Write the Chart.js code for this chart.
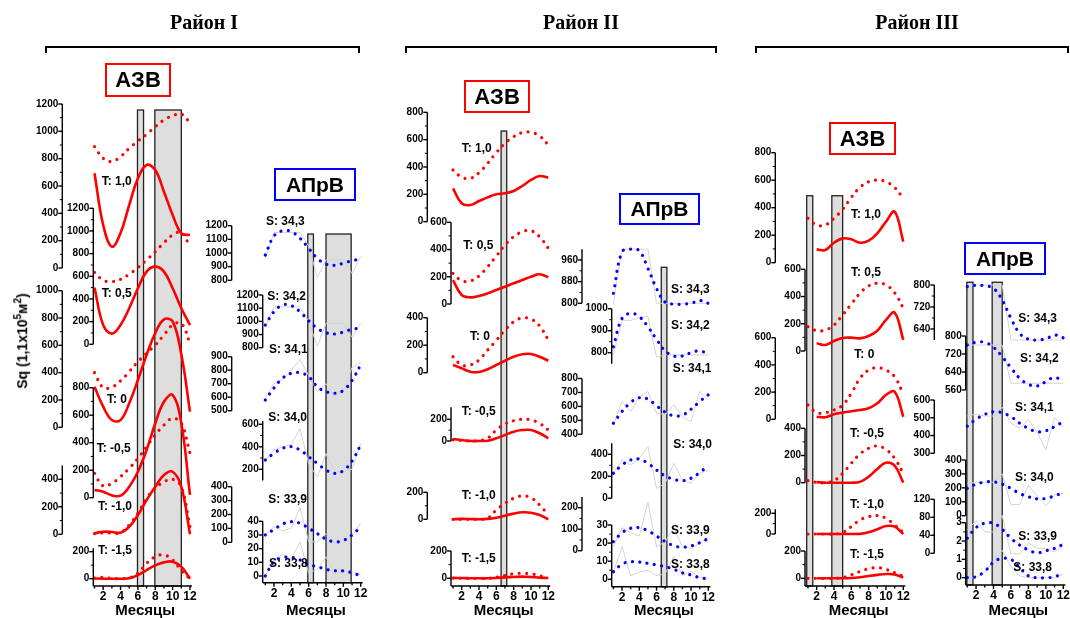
<!DOCTYPE html>
<html lang="ru">
<head>
<meta charset="utf-8">
<script src="https://cdn.jsdelivr.net/npm/chart.js@4.4.1/dist/chart.umd.min.js"></script>
<style>
  body { margin:0; background:#fff; }
  #wrap { position:relative; width:1070px; height:618px; overflow:hidden; font-family:"Liberation Sans", Arial, sans-serif; }
  #c { position:absolute; left:0; top:0; }
  .ttl { position:absolute; top:11px; font:bold 20px "Liberation Serif","Times New Roman",serif; transform:translateX(-50%); white-space:nowrap; }
  .brk { position:absolute; top:46px; height:7px; border:2px solid #000; border-bottom:none; box-sizing:border-box; }
  .box { position:absolute; box-sizing:border-box; border:2px solid; font-weight:bold; display:flex; align-items:center; justify-content:center; }
  .red { border-color:#f00; font-size:22px; }
  .blue { border-color:#00f; font-size:21px; }
  #ylab { position:absolute; left:21px; top:341px; transform:translate(-50%,-50%) rotate(-90deg); font-weight:bold; font-size:14px; white-space:nowrap; }
  #ylab sup { font-size:10px; }
</style>
</head>
<body>
<div id="wrap">
  <canvas id="c" width="1070" height="618"></canvas>
  <div class="ttl" style="left:204px">Район I</div>
  <div class="ttl" style="left:581px">Район II</div>
  <div class="ttl" style="left:917px">Район III</div>
  <div class="brk" style="left:45px;width:315px"></div>
  <div class="brk" style="left:405px;width:312px"></div>
  <div class="brk" style="left:755px;width:314px"></div>
  <div class="box red" style="left:105px;top:63px;width:66px;height:34px">АЗВ</div>
  <div class="box red" style="left:464px;top:80px;width:66px;height:33px">АЗВ</div>
  <div class="box red" style="left:829px;top:122px;width:67px;height:33px">АЗВ</div>
  <div class="box blue" style="left:274px;top:168px;width:82px;height:33px">АПрВ</div>
  <div class="box blue" style="left:619px;top:193px;width:81px;height:32px">АПрВ</div>
  <div class="box blue" style="left:964px;top:242px;width:82px;height:33px">АПрВ</div>
  <div id="ylab">Sq (1,1x10<sup>5</sup>м<sup>2</sup>)</div>
</div>
<script>
// месяцы
const months = [1, 2, 3, 4, 5, 6, 7, 8, 9, 10, 11, 12];
const tLabels = ['T: 1,0', 'T: 0,5', 'T: 0', 'T: -0,5', 'T: -1,0', 'T: -1,5'];
const sLabels = ['S: 34,3', 'S: 34,2', 'S: 34,1', 'S: 34,0', 'S: 33,9', 'S: 33,8'];

// Район I, АЗВ (сплошные и точечные)
const r1AzvLine = [
  [693, 315, 156, 256, 461, 656, 754, 717, 558, 388, 254, 241],
  [500, 170, 94, 170, 318, 494, 641, 685, 641, 494, 318, 170],
  [297, 151, 53, 53, 176, 346, 530, 690, 790, 775, 534, 114],
  [56, 44, 17, 15, 80, 189, 347, 541, 698, 747, 541, 20],
  [7, 19, 17, 12, 55, 140, 249, 346, 431, 455, 346, 0],
  [2, 0, 0, 0, 3, 27, 64, 99, 121, 126, 89, 0]
];
const r1AzvDots = [
  [888, 803, 778, 815, 876, 929, 978, 1034, 1083, 1114, 1127, 1063],
  [635, 565, 553, 573, 618, 676, 744, 817, 897, 964, 988, 861],
  [400, 290, 295, 340, 407, 480, 542, 602, 676, 749, 761, 615],
  [177, 85, 105, 153, 214, 286, 371, 456, 529, 577, 541, 323],
  [5, 10, 10, 12, 68, 153, 262, 334, 382, 400, 346, 55],
  [5, 10, 2, 0, 5, 40, 114, 163, 176, 139, 62, 0]
];
// Район I, АПрВ: сглаженные (точки) и исходные (серые)
const r1AprvDots = [
  [985, 1124, 1163, 1156, 1108, 1034, 961, 919, 910, 925, 944, 954],
  [972, 1073, 1124, 1119, 1073, 1005, 947, 914, 904, 919, 940, 947],
  [579, 668, 742, 777, 782, 752, 678, 641, 629, 650, 725, 840],
  [283, 342, 387, 401, 372, 312, 253, 194, 164, 188, 274, 416],
  [30, 34, 38, 39.7, 38.5, 35, 31, 27, 25, 26, 30, 36],
  [0, 10.5, 13.4, 13.7, 11.7, 8.5, 6.8, 4.9, 3.9, 3.7, 2.4, 0]
];
const r1AprvRaw = [
  [960, 1150, 1150, 1150, 1150, 1050, 820, 950, 950, 950, 850, 975],
  [960, 1110, 1110, 1110, 1110, 1000, 810, 985, 985, 985, 880, 985],
  [600, 700, 730, 800, 880, 760, 640, 700, 600, 650, 820, 860],
  [280, 372, 401, 420, 560, 250, 130, 340, 170, 180, 200, 430],
  [30, 36, 33, 35, 50, 25, 25, 31, 24, 27, 29, 39],
  [0, 12, 16, 12, 25, 2, 5, 14, 1, 4, 3, 1]
];
// Район II, АЗВ
const r2AzvLine = [
  [244, 135, 122, 151, 178, 200, 208, 225, 261, 305, 334, 322],
  [176, 66, 49, 59, 78, 103, 127, 152, 176, 200, 218, 196],
  [56, 32, 7, 5, 25, 56, 87, 116, 134, 136, 116, 87],
  [18, 9, 0, 0, 2, 25, 55, 86, 101, 101, 71, 25],
  [0, 3, 2, 0, 3, 12, 27, 42, 52, 49, 32, 0],
  [3, 2, 0, 0, 0, 3, 7, 10, 12, 10, 5, 2]
];
const r2AzvDots = [
  [378, 325, 317, 358, 427, 505, 573, 622, 651, 654, 627, 561],
  [225, 171, 169, 206, 274, 352, 433, 494, 531, 538, 494, 409],
  [116, 56, 56, 92, 165, 235, 310, 370, 398, 390, 340, 238],
  [10, 5, 0, 5, 25, 101, 157, 187, 200, 194, 163, 101],
  [0, 0, 0, 0, 8, 69, 119, 156, 173, 160, 106, 32],
  [2, 0, 0, 0, 0, 8, 20, 33, 37, 33, 18, 5]
];
// Район II, АПрВ
const r2AprvDots = [
  [837, 990, 1000, 994, 929, 855, 804, 797, 797, 800, 810, 800],
  [827, 956, 979, 964, 918, 861, 808, 785, 785, 800, 808, 794],
  [479, 563, 628, 662, 652, 604, 559, 532, 537, 580, 635, 683],
  [227, 303, 348, 357, 318, 257, 203, 173, 160, 182, 233, 303],
  [20.8, 25.7, 28.2, 28.5, 26.8, 23.9, 20.8, 18.6, 17.7, 18.4, 20.2, 22.6],
  [4.2, 8.4, 9.7, 9.5, 8.8, 7.9, 7, 5.5, 3.6, 2.4, 0.9, 0.2]
];
const r2AprvRaw = [
  [800, 1000, 1000, 1000, 1000, 800, 800, 800, 800, 800, 800, 800],
  [790, 947, 947, 960, 965, 780, 790, 790, 790, 790, 790, 790],
  [470, 635, 563, 667, 707, 551, 540, 611, 527, 491, 707, 647],
  [227, 348, 303, 364, 469, 91, 136, 318, 166, 136, 227, 257],
  [18, 28.5, 25.7, 23.9, 42.8, 17.9, 20.8, 28.7, 18, 17.1, 20, 23],
  [4, 18, 2, 4, 5, 2, 3, 12.5, 2, 4.5, 1, 0]
];
// Район III, АЗВ
const r3AzvLine = [
  [null, 97, 92, 145, 177, 170, 145, 160, 214, 298, 371, 153],
  [null, 57, 44, 73, 96, 98, 93, 110, 149, 228, 282, 81],
  [null, 19, 15, 37, 49, 59, 68, 81, 118, 179, 203, 19],
  [null, 4, 0, 0, 0, 0, 6, 44, 101, 147, 125, 0],
  [null, 0, 0, 0, 0, 0, 1, 16, 45, 77, 71, 0],
  [null, 0, 0, 0, 0, 2, 8, 17, 25, 31, 28, 5]
];
const r3AzvDots = [
  [323, 274, 274, 323, 388, 475, 548, 589, 601, 589, 548, 468],
  [179, 149, 154, 191, 265, 345, 424, 478, 498, 485, 428, 314],
  [105, 49, 49, 68, 105, 191, 301, 362, 379, 362, 313, 186],
  [15, 2, 0, 15, 69, 143, 211, 253, 270, 245, 179, 69],
  [0, 0, 0, 0, 14, 71, 135, 167, 177, 152, 87, 14],
  [0, 0, 0, 0, 5, 25, 50, 70, 78, 65, 40, 15]
];
// Район III, АПрВ
const r3AprvDots = [
  [794, 799, 797, 788, 745, 679, 624, 603, 600, 604, 618, 608],
  [760, 772, 772, 750, 708, 659, 612, 585, 578, 597, 616, 597],
  [453, 491, 519, 534, 528, 506, 469, 440, 421, 427, 450, 478],
  [196, 226, 241, 243, 226, 196, 160, 136, 121, 124, 143, 164],
  [2.15, 2.73, 2.97, 2.97, 2.64, 2.15, 1.78, 1.51, 1.36, 1.47, 1.6, 1.82],
  [0, 0.05, 0.35, 0.85, 1.05, 1.0, 0.55, 0.1, 0, 0, 0.05, 0.25]
];
const r3AprvRaw = [
  [800, 800, 800, 800, 800, 600, 600, 600, 600, 600, 600, 600],
  [760, 760, 760, 760, 760, 590, 590, 590, 590, 590, 590, 590],
  [510, 520, 510, 510, 560, 470, 440, 490, 420, 320, 500, 450],
  [230, 240, 240, 240, 300, 80, 80, 220, 140, 70, 150, 160],
  [2.6, 3.1, 2.5, 2.5, 3.4, 1.3, 1.3, 1.9, 1.6, 1.6, 1.4, 1.9],
  [0, 0, 0.3, 0.9, 1.5, 0.6, 0.1, 0, 0, 0, 0, 0.2]
];

// подписи осей по вертикали (для каждой из шести подосей панели)
const r1AzvTicks = [[0,200,400,600,800,1000,1200],[0,200,400,600,800,1000,1200],[0,200,400,600,800,1000],[0,200,400,600,800],[0,200,400],[0,200]];
const r1AprvTicks = [[800,900,1000,1100,1200],[800,900,1000,1100,1200],[500,600,700,800,900],[200,400,600],[0,100,200,300,400],[0,10,20,30,40]];
const r2AzvTicks = [[0,200,400,600,800],[0,200,400,600],[0,200,400],[0,200],[0,200],[0,200]];
const r2AprvTicks = [[800,880,960],[800,900,1000],[400,500,600,700,800],[0,200,400],[0,100,200],[0,10,20,30]];
const r3AzvTicks = [[0,200,400,600,800],[0,200,400,600],[0,200,400,600],[0,200,400],[0,200],[0,200]];
const r3AprvTicks = [[640,720,800],[560,640,720,800],[300,400,500,600],[0,100,200,300,400],[0,40,80,120],[0,1,2,3]];

// серые столбцы: [начало, конец (месяцы), верх (в единицах первой подоси)]
const r1AzvBars = [[5.95, 6.65, 1156], [7.95, 11, 1156]];
const r1AprvBars = [[5.9, 6.55, 1139], [8, 10.9, 1139]];
const r2AzvBars = [[6.55, 7.2, 663]];
const r2AprvBars = [[6.55, 7.2, 933]];
const r3AzvBars = [[0.85, 1.55, 487], [3.75, 5.0, 487]];
const r3AprvBars = [[0.95, 1.65, 810], [3.85, 5.0, 810]];

const W = 1070, H = 618;
const RED = '#ff0000', BLUE = '#0000ff', RAW = '#d4d4d4';

// раскладка панелей (пиксели)
const panels = [
  { m1: 94.5, m12: 190, axisY: 586, xA: 62.3, xB: 93.3, ticks: r1AzvTicks, line: r1AzvLine, dots: r1AzvDots, raw: null, color: RED,
    bars: r1AzvBars, names: tLabels, axisOf: [0,1,2,3,4,5],
    px: [[268,104],[344.3,208.3],[427.3,290.7],[497.7,387.7],[534.3,479.3],[578.7,551.7]],
    ext: {4: [0, 500], 5: [0, 225]},
    lab: [[101.7,182],[101.7,294],[107,400],[96.7,449],[98,507],[98,550.7]] },
  { m1: 265.3, m12: 360.7, axisY: 582.7, xA: 231.7, xB: 262.7, ticks: r1AprvTicks, line: null, dots: r1AprvDots, raw: r1AprvRaw, color: BLUE,
    bars: r1AprvBars, names: sLabels, axisOf: [0,1,2,3,5,5],
    px: [[280.3,225.7],[347.7,295],[410.7,356.7],[469.3,424.3],[542.3,486.7],[576,521.3]],
    ext: {3: [100, 630]},
    lab: [[266,221.7],[267.3,296.7],[269,349.3],[268.3,417.3],[268.3,500],[269,563.3]] },
  { m1: 453, m12: 548.3, axisY: 586, xA: 427.3, xB: 451, ticks: r2AzvTicks, line: r2AzvLine, dots: r2AzvDots, raw: null, color: RED,
    bars: r2AzvBars, names: tLabels, axisOf: [0,1,2,3,4,5],
    px: [[221.7,112.3],[304,222.3],[372.7,317.7],[441,419.3],[519.3,492.3],[578.3,551]],
    ext: {3: [0, 310]},
    lab: [[461.7,148.3],[463.3,245.3],[470,336.7],[461.7,411.7],[461.7,495.7],[461.7,559]] },
  { m1: 613.4, m12: 708.3, axisY: 586.7, xA: 582, xB: 611.7, ticks: r2AprvTicks, line: null, dots: r2AprvDots, raw: r2AprvRaw, color: BLUE,
    bars: r2AprvBars, names: sLabels, axisOf: [0,1,2,3,5,5],
    px: [[303.3,260],[352.7,308.7],[434.3,378.5],[498.3,454.3],[550.7,507.7],[579.3,525]],
    ext: {0: [800, 1000], 1: [750, 1000], 3: [0, 500], 4: [0, 250]},
    lab: [[671,290],[671,325.3],[672.7,368.3],[673.3,445],[671,530.7],[671,565]] },
  { m1: 808, m12: 903.3, axisY: 586, xA: 775.3, xB: 805, ticks: r3AzvTicks, line: r3AzvLine, dots: r3AzvDots, raw: null, color: RED,
    bars: r3AzvBars, names: tLabels, axisOf: [0,1,2,3,4,5],
    px: [[262.7,152.7],[351,269.3],[419.3,337.7],[482.7,428.3],[534,513.3],[578.3,551]],
    ext: {4: [0, 240]},
    lab: [[851,214.3],[851,272.3],[854.3,355],[850,433.3],[850,505],[850,554.3]] },
  { m1: 967.3, m12: 1063.3, axisY: 585, xA: 934.3, xB: 965.7, ticks: r3AprvTicks, line: null, dots: r3AprvDots, raw: r3AprvRaw, color: BLUE,
    bars: r3AprvBars, names: sLabels, axisOf: [0,1,2,3,5,5],
    px: [[329,285],[390,336],[453.3,400],[515.7,460],[553.3,499.3],[577.7,522.7]],
    ext: {0: [600, 800]},
    lab: [[1018.3,318.3],[1020,358.3],[1015,407.7],[1015,477.3],[1018.3,536.7],[1013.3,567.7]] }
];

const scales = {};
const datasets = [];
const toXY = row => months.map((m, i) => ({ x: m, y: row[i] }));

panels.forEach((p, pi) => {
  const kx = (p.m12 - p.m1) / 11;
  scales['x' + pi] = { type: 'linear', display: false, bounds: 'data', min: 1 - p.m1 / kx, max: 12 + (W - p.m12) / kx };
  p.ticks.forEach((t, k) => {
    const [p0, p1] = p.px[k];
    const t0 = t[0], t1 = t[t.length - 1];
    const ky = (p0 - p1) / (t1 - t0);
    scales['y' + pi + '_' + k] = { type: 'linear', display: false, bounds: 'data', min: t0 - (H - p0) / ky, max: t1 + p1 / ky };
  });
  p.dots.forEach((row, j) => {
    const yid = 'y' + pi + '_' + p.axisOf[j];
    if (p.line) {
      datasets.push({ data: toXY(p.line[j]), xAxisID: 'x' + pi, yAxisID: yid, borderColor: p.color,
        borderWidth: 2.6, tension: 0.4, pointRadius: 0, fill: false, order: 1 });
    }
    datasets.push({ data: toXY(row), xAxisID: 'x' + pi, yAxisID: yid, borderColor: p.color,
      borderWidth: 3.2, borderDash: [0.01, 7.4], borderCapStyle: 'round', tension: 0.4, pointRadius: 0, fill: false, order: 1 });
    if (p.raw) {
      datasets.push({ data: toXY(p.raw[j]), xAxisID: 'x' + pi, yAxisID: yid, borderColor: RAW,
        borderWidth: 1, tension: 0, pointRadius: 0, fill: false, order: 5 });
    }
  });
});

const FONT = '"Liberation Sans", Arial, sans-serif';

const frame = {
  id: 'frame',
  beforeDatasetsDraw(chart) {
    const ctx = chart.ctx;
    ctx.save();
    panels.forEach((p, pi) => {
      const xs = chart.scales['x' + pi], ys = chart.scales['y' + pi + '_0'];
      p.bars.forEach(b => {
        const x0 = xs.getPixelForValue(b[0]), x1 = xs.getPixelForValue(b[1]);
        const yt = ys.getPixelForValue(b[2]);
        ctx.fillStyle = '#dedede';
        ctx.fillRect(x0, yt, x1 - x0, p.axisY - yt);
        ctx.strokeStyle = '#222';
        ctx.lineWidth = 1.3;
        ctx.strokeRect(x0, yt, x1 - x0, p.axisY - yt);
      });
    });
    ctx.restore();
  },
  afterDatasetsDraw(chart) {
    const ctx = chart.ctx;
    ctx.save();
    ctx.strokeStyle = '#000';
    ctx.fillStyle = '#000';
    panels.forEach((p, pi) => {
      // вертикальные подоси
      p.ticks.forEach((t, k) => {
        const s = chart.scales['y' + pi + '_' + k];
        const x = k % 2 ? p.xB : p.xA;
        const e = p.ext[k] || [t[0], t[t.length - 1]];
        const yb = k === 5 ? p.axisY : s.getPixelForValue(e[0]);
        const yt = s.getPixelForValue(e[1]);
        ctx.lineWidth = 1.4;
        ctx.beginPath(); ctx.moveTo(x, yb); ctx.lineTo(x, yt); ctx.stroke();
        ctx.font = 'bold 10px ' + FONT;
        ctx.textAlign = 'right';
        ctx.textBaseline = 'middle';
        t.forEach(v => {
          const y = s.getPixelForValue(v);
          ctx.beginPath(); ctx.moveTo(x - 4, y); ctx.lineTo(x, y); ctx.stroke();
          ctx.fillText(String(v), x - 4, y);
        });
        const gap = Math.abs(s.getPixelForValue(t[1]) - s.getPixelForValue(t[0]));
        if (gap > 18) {
          ctx.lineWidth = 1;
          for (let i = 0; i < t.length - 1; i++) {
            const y = s.getPixelForValue((t[i] + t[i + 1]) / 2);
            ctx.beginPath(); ctx.moveTo(x - 2.5, y); ctx.lineTo(x, y); ctx.stroke();
          }
        }
      });
      // ось месяцев
      const xs = chart.scales['x' + pi];
      ctx.lineWidth = 1.4;
      ctx.beginPath(); ctx.moveTo(p.xB, p.axisY); ctx.lineTo(xs.getPixelForValue(12) + 2, p.axisY); ctx.stroke();
      ctx.font = 'bold 12px ' + FONT;
      ctx.textAlign = 'center';
      ctx.textBaseline = 'middle';
      months.forEach(m => {
        const x = xs.getPixelForValue(m);
        const len = m % 2 ? 2.5 : 4;
        ctx.beginPath(); ctx.moveTo(x, p.axisY); ctx.lineTo(x, p.axisY + len); ctx.stroke();
        if (m % 2 === 0) ctx.fillText(String(m), x, p.axisY + 11);
      });
      ctx.font = 'bold 15px ' + FONT;
      const mid = (xs.getPixelForValue(1) + xs.getPixelForValue(12)) / 2 + 3;
      ctx.fillText('Месяцы', mid, 611);
      // подписи кривых
      ctx.font = 'bold 12px ' + FONT;
      ctx.textAlign = 'left';
      p.names.forEach((n, j) => ctx.fillText(n, p.lab[j][0], p.lab[j][1]));
    });
    ctx.restore();
  }
};

new Chart(document.getElementById('c'), {
  type: 'line',
  data: { datasets },
  options: {
    responsive: false,
    animation: false,
    devicePixelRatio: 1,
    events: [],
    layout: { padding: 0 },
    plugins: { legend: { display: false }, tooltip: { enabled: false } },
    scales
  },
  plugins: [frame]
});
</script>
</body>
</html>
